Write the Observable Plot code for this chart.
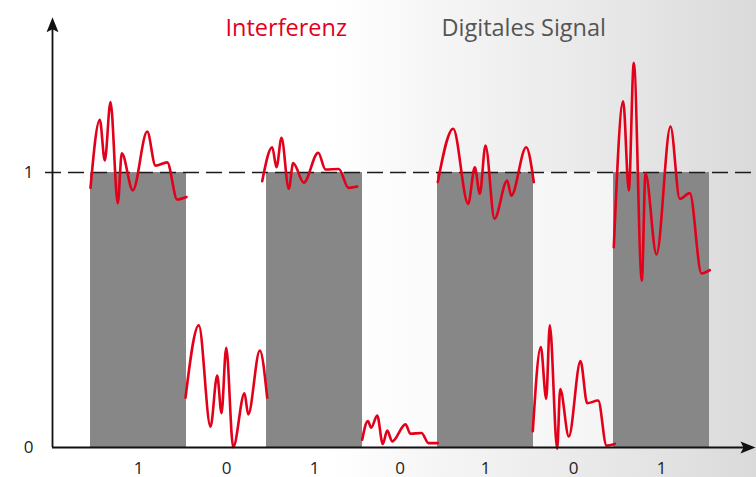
<!DOCTYPE html>
<html>
<head>
<meta charset="utf-8">
<script src="https://cdn.jsdelivr.net/npm/d3@7"></script>
<script src="https://cdn.jsdelivr.net/npm/@observablehq/plot@0.6"></script>
<style>
  html, body { margin: 0; padding: 0; background: #fff; }
  #chart svg { display: block; }
</style>
</head>
<body>
<div id="chart"></div>
<script>
// ---- data ----
const bits = [1, 0, 1, 0, 1, 0, 1];
const edges = [38, 134, 214, 310, 385, 481, 561, 657]; // time units
const yTicks = [0, 1];
const seriesNames = ["Interferenz", "Digitales Signal"];

// interference traces, one per bit period: [time, level]
const interf1 = [[38,0.944],[47.3,1.192],[52.3,1.044],[58,1.256],[65.3,0.888],[69.3,1.070],[80.3,0.935],[94.7,1.149],[103,1.025],[114.7,1.037],[124.7,0.902],[134,0.911]];
const interf2 = [[133,0.181],[146.3,0.444],[158,0.076],[164.7,0.262],[169,0.125],[173.7,0.363],[180.7,0.001],[192,0.197],[195.7,0.120],[207.3,0.353],[214.7,0.181]];
const interf3 = [[209.7,0.968],[219.7,1.092],[224,1.019],[229,1.126],[236.3,0.941],[240.7,1.034],[251.3,0.963],[265.7,1.072],[273,1.011],[286.3,1.013],[296,0.944],[304.7,0.949]];
const interf4 = [[309.7,0.028],[315.3,0.096],[318.7,0.072],[324.7,0.116],[330.3,0.013],[334.7,0.062],[339.7,0.022],[353,0.084],[358,0.050],[369,0.053],[376,0.016],[385.3,0.016]];
const interf5 = [[385.3,0.965],[400.7,1.159],[415.7,0.886],[422.3,1.019],[427.3,0.923],[433,1.098],[442,0.832],[454.7,0.971],[458.7,0.916],[473.7,1.092],[481.3,0.965]];
const interf6 = [[480.3,0.059],[488.3,0.365],[493.7,0.177],[497.3,0.444],[504.7,-0.004],[507.7,0.213],[516.3,0.040],[528,0.314],[534.7,0.161],[545.7,0.171],[554,0.007],[562.3,0.013]];
const interf7 = [[561.3,0.728],[570.7,1.259],[576.3,0.935],[581.3,1.399],[589.3,0.607],[593,0.997],[604,0.702],[618,1.167],[627.3,0.904],[637.3,0.925],[649,0.633],[657.3,0.645]];

// ---- tables built from the arrays ----
const periods = bits.map((b, i) => ({bit: b, x1: edges[i], x2: edges[i + 1], mid: (edges[i] + edges[i + 1]) / 2}));
const traces = [interf1, interf2, interf3, interf4, interf5, interf6, interf7]
  .flatMap((seg, k) => seg.map(([t, v]) => ({t, v, seg: k})));

const xMax = 704, yAxisTop = 1.565, xAxisEnd = 703;
const arrowHead = {
  draw(ctx) {
    ctx.moveTo(0, 0);
    ctx.lineTo(6, 15);
    ctx.lineTo(0, 12);
    ctx.lineTo(-6, 15);
    ctx.closePath();
  }
};

const red = "#e2001a";
const chart = Plot.plot({
  width: 756,
  height: 477,
  marginLeft: 45,
  marginRight: 0,
  marginTop: 0,
  marginBottom: 30,
  x: {domain: [-7, xMax], axis: null},
  y: {domain: [0, 447 / 275], axis: null},
  style: {
    fontFamily: "'Open Sans', sans-serif",
    background: "linear-gradient(90deg, #ffffff 0%, #ffffff 44%, #f4f4f4 60%, #e8e8e8 80%, #dadada 100%)",
    overflow: "visible"
  },
  marks: [
    // lighter bands for the 0-periods
    Plot.rectY(periods.filter(d => d.bit === 0), {x1: "x1", x2: "x2", y1: 0, y2: 1, fill: "#ffffff", fillOpacity: 0.55}),
    // digital signal bars
    Plot.rectY(periods.filter(d => d.bit === 1), {x1: "x1", x2: "x2", y1: 0, y2: "bit", fill: "#878787"}),
    // level 1 dashed reference
    Plot.ruleY([1], {stroke: "#1a1a1a", strokeWidth: 1.3, strokeDasharray: "16,7"}),
    // interference
    Plot.line(traces, {x: "t", y: "v", z: "seg", stroke: red, strokeWidth: 2.6, curve: "monotone-x"}),
    // axes
    Plot.ruleX([0], {y1: 0, y2: yAxisTop - 0.03, stroke: "#111", strokeWidth: 1.8}),
    Plot.ruleY([0], {x1: 0, x2: xAxisEnd - 8, stroke: "#111", strokeWidth: 1.8}),
    Plot.dot([yAxisTop], {x: 0, y: d => d, symbol: arrowHead, fill: "#111", stroke: null}),
    Plot.dot([xAxisEnd], {x: d => d, y: 0, symbol: arrowHead, rotate: 90, fill: "#111", stroke: null}),
    // y tick labels
    Plot.text(yTicks, {x: 0, y: d => d, text: d => String(d), textAnchor: "end", dx: -19, fontSize: 17, fill: "#222"}),
    // bit labels
    Plot.text(periods, {x: "mid", y: 0, text: d => String(d.bit), dy: 26, lineAnchor: "bottom", fontSize: 17, fill: "#222"}),
    // series labels
    Plot.text([seriesNames[0]], {frameAnchor: "top-left", text: d => d, textAnchor: "start", lineAnchor: "bottom", dx: 180, dy: 35, fontSize: 23.5, fill: red}),
    Plot.text([seriesNames[1]], {frameAnchor: "top-left", text: d => d, textAnchor: "start", lineAnchor: "bottom", dx: 396, dy: 35, fontSize: 23.5, fill: "#555"})
  ]
});
document.getElementById("chart").appendChild(chart);
</script>
</body>
</html>
